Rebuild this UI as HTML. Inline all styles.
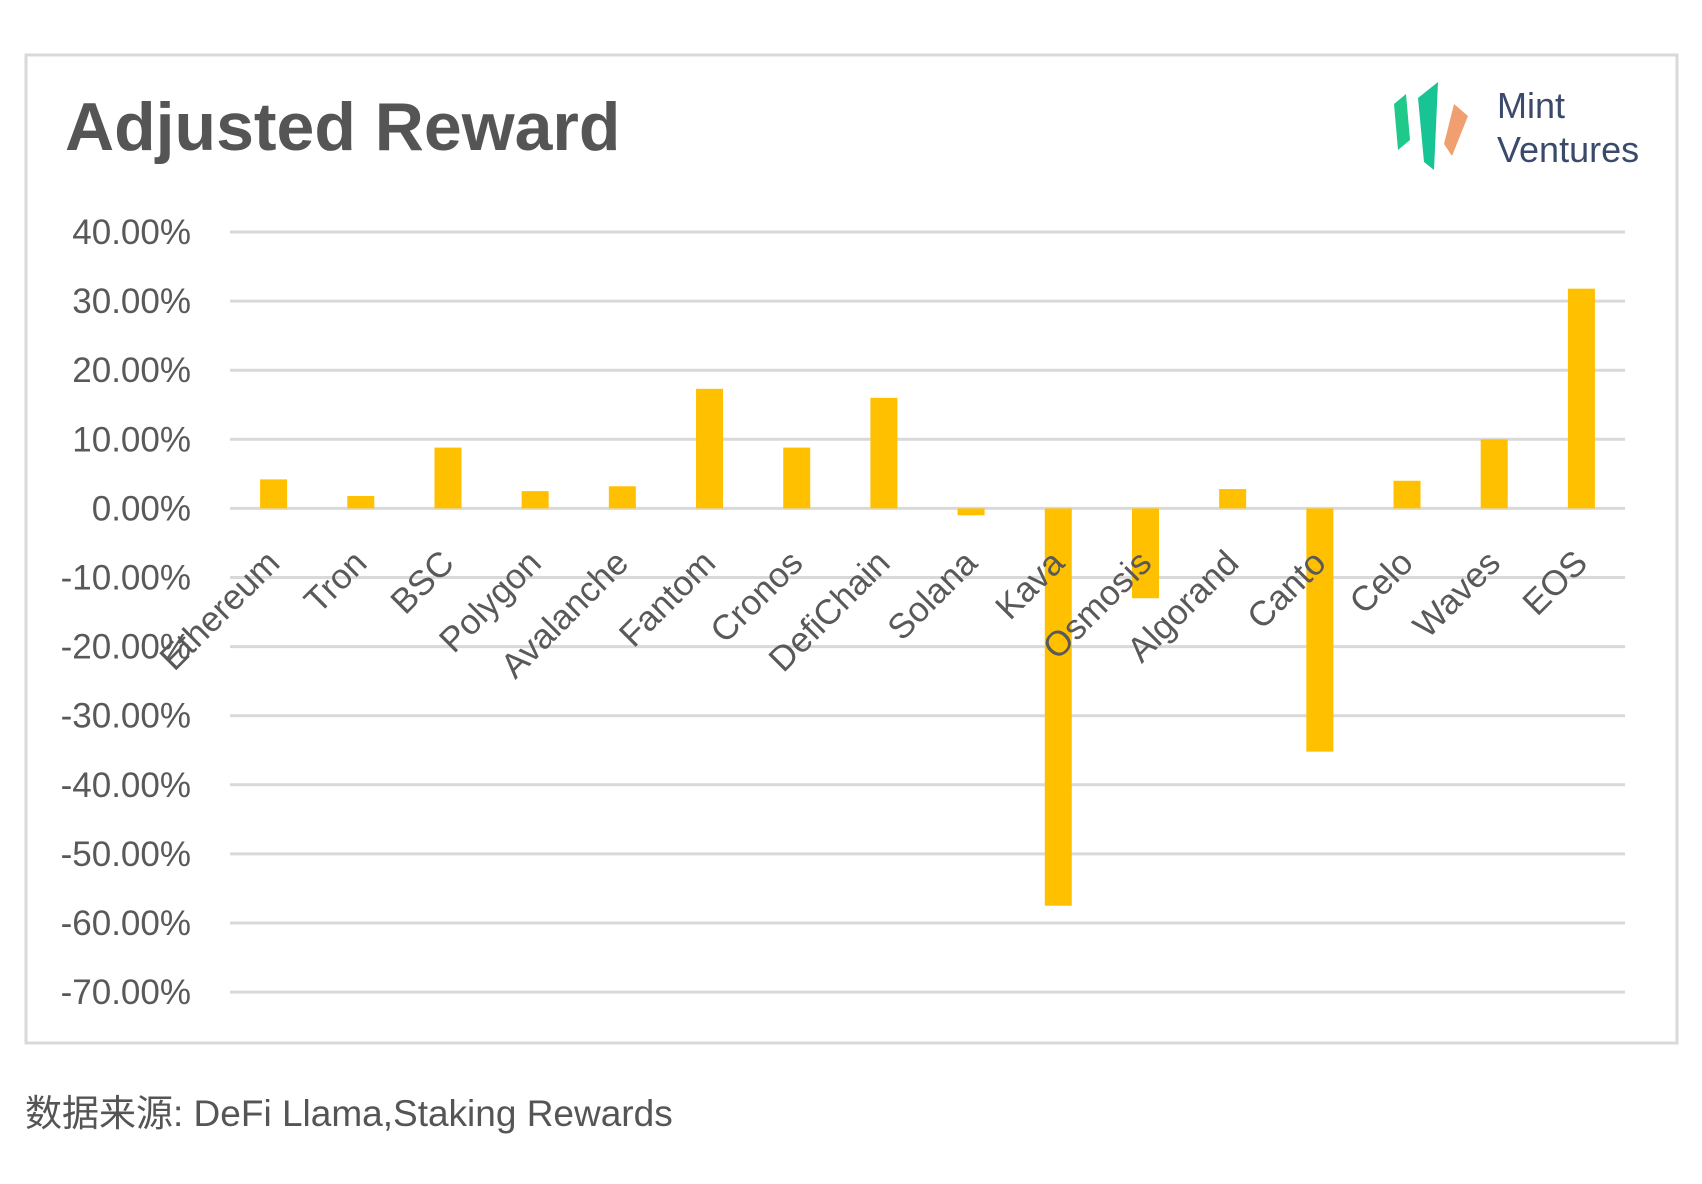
<!DOCTYPE html>
<html><head><meta charset="utf-8"><style>
body{margin:0;background:#fff;}
svg{display:block;}
</style></head><body>
<svg width="1702" height="1184" xmlns="http://www.w3.org/2000/svg" font-family="Liberation Sans, sans-serif">
<rect x="26" y="55" width="1651" height="988" fill="#fff" stroke="#d9d9d9" stroke-width="3"/>
<text x="65" y="150" font-size="68" font-weight="bold" fill="#555">Adjusted Reward</text>
<g>
<polygon points="1394,104 1406,94 1410,140 1398,150" fill="#1fc98a"/>
<polygon points="1418,98 1438,82 1434,170 1424,162" fill="#18c494"/>
<polygon points="1454,104 1468,116 1452,156 1444,144" fill="#f0a070"/>
</g>
<text x="1497" y="118" font-size="36" fill="#3b4a6b">Mint</text>
<text x="1497" y="162" font-size="36" fill="#3b4a6b">Ventures</text>
<g stroke="#d9d9d9" stroke-width="3" id="grid"></g>
<g font-size="35" fill="#595959" text-anchor="end" id="ticks"></g>
<g fill="#ffc000" id="bars"></g>
<g id="labels" font-size="35" fill="#595959" text-anchor="end"></g>
<text x="25" y="1126" font-size="37" fill="#555" font-family="Liberation Sans, Noto Sans CJK SC, sans-serif">数据来源: DeFi Llama,Staking Rewards</text>
<script>
(function(){
var ns="http://www.w3.org/2000/svg";
var g=document.getElementById("grid"),tk=document.getElementById("ticks");
var gTop=232,step=69.1,x1=230,x2=1625;
for(var k=0;k<12;k++){var y=gTop+k*step;
var ln=document.createElementNS(ns,"line");ln.setAttribute("x1",x1);ln.setAttribute("x2",x2);ln.setAttribute("y1",y);ln.setAttribute("y2",y);g.appendChild(ln);
var t=document.createElementNS(ns,"text");t.setAttribute("x",191);t.setAttribute("y",y+12);t.textContent=(40-10*k).toFixed(2)+"%";tk.appendChild(t);}
var names=["Ethereum","Tron","BSC","Polygon","Avalanche","Fantom","Cronos","DefiChain","Solana","Kava","Osmosis","Algorand","Canto","Celo","Waves","EOS"];
var vals=[4.2,1.8,8.8,2.5,3.2,17.3,8.8,16,-1,-57.5,-13,2.8,-35.2,4,10,31.8];
var b=document.getElementById("bars"),l=document.getElementById("labels");
var y0=gTop+4*step,bw=(x2-x1)/16;
for(var i=0;i<16;i++){var cx=x1+bw/2+i*bw,h=vals[i]*step/10;
var r=document.createElementNS(ns,"rect");r.setAttribute("x",cx-13.5);r.setAttribute("width",27);
r.setAttribute("y",h>0?y0-h:y0);r.setAttribute("height",Math.abs(h));b.appendChild(r);
var t2=document.createElementNS(ns,"text");var ax=cx+8,ay=565;t2.setAttribute("x",ax);t2.setAttribute("y",ay);
t2.setAttribute("transform","rotate(-45 "+ax+" "+ay+")");t2.textContent=names[i];l.appendChild(t2);}
})();
</script>
</svg>
</body></html>
